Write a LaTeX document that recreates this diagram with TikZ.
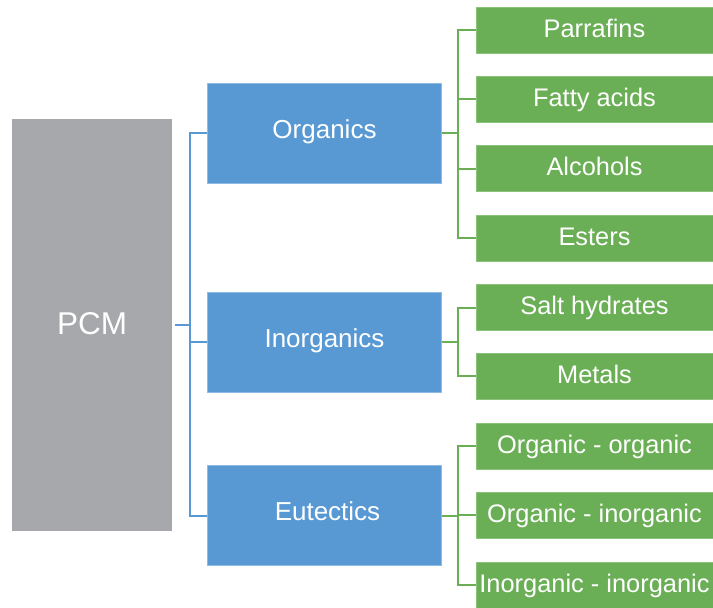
\documentclass[tikz,border=0pt]{standalone}
\usepackage{fontspec}
\setmainfont{Liberation Sans}
\definecolor{pcmgrey}{HTML}{A7A8AB}
\definecolor{classblue}{HTML}{5899D4}
\definecolor{classblueedge}{HTML}{8DBBE6}
\definecolor{typegreen}{HTML}{6AAF55}
\definecolor{typegreenedge}{HTML}{8CC37A}
\begin{document}
\begin{tikzpicture}[x=1pt,y=-1pt,
  rootbox/.style={fill=pcmgrey, draw=none, minimum width=160pt, minimum height=412pt,
    inner sep=0pt, text=white, font=\fontsize{31.5}{36}\selectfont,
    text height=22.6pt, text depth=3.6pt},
  classbox/.style={fill=classblue, draw=classblueedge, line width=0.6pt,
    minimum width=234pt, minimum height=100pt, inner sep=0pt, text=white,
    font=\fontsize{26}{30}\selectfont, text height=18.6pt, text depth=8pt},
  typebox/.style={fill=typegreen, draw=typegreenedge, line width=0.6pt,
    minimum width=237pt, minimum height=46pt, inner sep=0pt, text=white,
    font=\fontsize{25.4}{29}\selectfont, text height=18.2pt, text depth=4.2pt},
  blueline/.style={draw=classblue, line width=2pt},
  greenline/.style={draw=typegreen, line width=2pt}]

\useasboundingbox (0,0) rectangle (713,608);

% root
\node[rootbox] (pcm) at (92,324.5) {PCM};

% classes
\node[classbox] (org)   at (324.5,133)   {Organics};
\node[classbox] (inorg) at (324.5,342)   {Inorganics};
\node[classbox] (eut)   at (324.5,515.5) {\hspace*{6pt}Eutectics};

% types
\node[typebox] (par) at (594.5,30)    {Parrafins};
\node[typebox] (fat) at (594.5,99)    {Fatty acids};
\node[typebox] (alc) at (594.5,168.5) {Alcohols};
\node[typebox] (est) at (594.5,238)   {Esters};
\node[typebox] (sal) at (594.5,307.5) {Salt hydrates};
\node[typebox] (met) at (594.5,376)   {Metals};
\node[typebox] (oo)  at (594.5,446)   {Organic - organic};
\node[typebox] (oi)  at (594.5,515)   {Organic - inorganic};
\node[typebox] (ii)  at (594.5,585)   {Inorganic - inorganic};

% root to classes
\draw[blueline] ([xshift=3pt]pcm.east) -- ++(15,0);
\draw[blueline] (org.west) -- ++(-17,0) |- (eut.west);
\draw[blueline] (inorg.west) -- ++(-17,0);

% organics to types
\draw[greenline] (org.east) -- ++(17,0);
\draw[greenline] (par.west) -- ++(-18,0) |- (est.west);
\draw[greenline] (fat.west) -- ++(-18,0);
\draw[greenline] (alc.west) -- ++(-18,0);

% inorganics to types
\draw[greenline] (inorg.east) -- ++(17,0);
\draw[greenline] (sal.west) -- ++(-18,0) |- (met.west);

% eutectics to types
\draw[greenline] (eut.east) -- ++(17,0);
\draw[greenline] (oo.west) -- ++(-18,0) |- (ii.west);
\draw[greenline] (oi.west) -- ++(-18,0);

\end{tikzpicture}
\end{document}
